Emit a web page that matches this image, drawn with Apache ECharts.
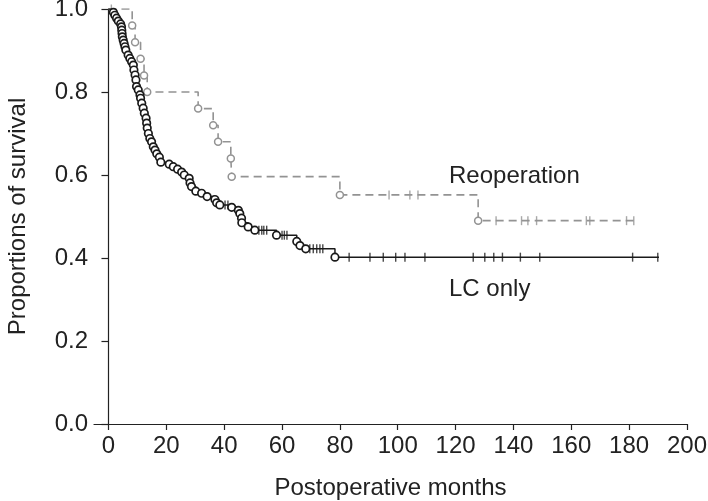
<!DOCTYPE html>
<html>
<head>
<meta charset="utf-8">
<script src="https://cdn.jsdelivr.net/npm/echarts@6/dist/echarts.min.js"></script>
<style>
html,body{margin:0;padding:0;background:#fff;}
#chart{width:708px;height:501px;}
</style>
</head>
<body>
<div id="chart"></div>
<script>
// ---- Data ----
const xTicks = [0, 20, 40, 60, 80, 100, 120, 140, 160, 180, 200];
const yTicks = [0.0, 0.2, 0.4, 0.6, 0.8, 1.0];

// LC only: event times (months) and survival after each event
const lcEventMonths = [1.7,2.2,2.8,3.4,4.2,4.5,4.6,4.7,4.8,5.1,5.4,5.7,6.0,6.8,7.4,8.0,8.6,8.8,9.2,9.5,9.7,10.3,10.9,11.1,11.5,12.0,12.4,13.0,13.2,13.4,13.8,14.3,14.9,15.5,16.1,16.7,17.6,18.1,21.0,22.4,23.9,25.3,26.2,27.9,28.2,28.7,30.2,32.2,34.1,36.8,37.4,38.5,42.6,44.9,45.4,46.0,46.1,48.3,50.6,58.1,65.1,66.2,68.2,78.3];
const lcEventSurv   = [0.992,0.985,0.978,0.971,0.964,0.957,0.949,0.941,0.933,0.925,0.917,0.909,0.901,0.889,0.881,0.873,0.865,0.853,0.841,0.829,0.813,0.805,0.793,0.785,0.773,0.761,0.749,0.737,0.725,0.713,0.700,0.688,0.680,0.668,0.660,0.651,0.643,0.631,0.626,0.620,0.614,0.607,0.600,0.592,0.581,0.572,0.561,0.556,0.548,0.541,0.533,0.528,0.522,0.515,0.507,0.496,0.485,0.475,0.467,0.455,0.440,0.430,0.422,0.402];
const lcCensorMonths = [40.3,41.3,52.0,53.0,53.7,54.7,60.0,60.8,61.7,69.6,70.8,72.0,73.1,74.1,83.2,90.4,95.0,99.3,102.5,109.4,126.1,130.1,133.2,136.2,142.4,149.1,181.2,189.9];
const lcLastMonth = 190.3;

// Reoperation
const reEventMonths = [8.2,9.2,11.1,12.3,13.4,31.0,36.2,37.9,42.3,42.6,80.0,127.8];
const reEventSurv   = [0.96,0.92,0.88,0.84,0.80,0.76,0.72,0.68,0.64,0.596,0.552,0.49];
const reCensorMonths = [1.0,97.0,104.2,107.0,134.0,142.8,145.0,148.0,165.2,166.4,179.1,181.6];
const reLastMonth = 181.6;

const seriesNames = ['LC only', 'Reoperation'];
const xTitle = 'Postoperative months';
const yTitle = 'Proportions of survival';

// ---- helpers ----
function stepData(months, surv, last) {
  const d = [[0, 1]];
  months.forEach((m, i) => d.push([m, surv[i]]));
  d.push([last, surv[surv.length - 1]]);
  return d;
}
function levelAt(months, surv, t) {
  let s = 1;
  for (let i = 0; i < months.length; i++) { if (months[i] <= t) s = surv[i]; }
  return s;
}
function pts(months, surv) { return months.map((m, i) => [m, surv[i]]); }
function censorPts(cm, months, surv) { return cm.map(t => [t, levelAt(months, surv, t)]); }

const BLACK = '#1a1a1a';
const GREY = '#939393';
const TXT = '#222';
const FONT = 'Liberation Sans';
const FS = 24;

const chart = echarts.init(document.getElementById('chart'), null, {renderer: 'canvas'});
chart.setOption({
  animation: false,
  backgroundColor: '#ffffff',
  grid: {left: 94, right: 21, top: 9, bottom: 77, containLabel: false, outerBoundsMode: 'none'},
  xAxis: {
    type: 'value', min: -5, max: 200,
    name: xTitle, nameLocation: 'middle', nameGap: 52,
    nameTextStyle: {fontFamily: FONT, fontSize: FS, color: TXT},
    axisLine: {onZero: false, lineStyle: {color: TXT, width: 1.2}},
    axisTick: {show: true, length: 6, inside: false, customValues: xTicks, lineStyle: {color: TXT, width: 1.2}},
    axisLabel: {customValues: xTicks, fontFamily: FONT, fontSize: FS, color: TXT, margin: 10},
    splitLine: {show: false}
  },
  yAxis: {
    type: 'value', min: 0, max: 1, interval: 0.2,
    name: yTitle, nameLocation: 'middle', nameGap: 64, nameRotate: 90,
    nameTextStyle: {fontFamily: FONT, fontSize: FS, color: TXT},
    axisLine: {show: true, lineStyle: {color: TXT, width: 1.2}},
    axisTick: {show: true, length: 7, lineStyle: {color: TXT, width: 1.2}},
    axisLabel: {fontFamily: FONT, fontSize: FS, color: TXT, margin: 6, formatter: v => v.toFixed(1)},
    splitLine: {show: false}
  },
  series: [
    {
      name: seriesNames[1] + ' line', type: 'line', step: 'end', symbol: 'none', z: 2,
      data: stepData(reEventMonths, reEventSurv, reLastMonth),
      lineStyle: {color: GREY, width: 1.6, type: [8, 5]}
    },
    {
      name: seriesNames[0] + ' line', type: 'line', step: 'end', symbol: 'none', z: 3,
      data: stepData(lcEventMonths, lcEventSurv, lcLastMonth),
      lineStyle: {color: BLACK, width: 1.5}
    },
    {
      name: seriesNames[1] + ' censored', type: 'scatter', symbol: 'rect', symbolSize: [1.4, 9], z: 4,
      data: censorPts(reCensorMonths, reEventMonths, reEventSurv),
      itemStyle: {color: GREY}
    },
    {
      name: seriesNames[0] + ' censored', type: 'scatter', symbol: 'rect', symbolSize: [1.4, 9], z: 5,
      data: censorPts(lcCensorMonths, lcEventMonths, lcEventSurv),
      itemStyle: {color: BLACK}
    },
    {
      name: seriesNames[1] + ' events', type: 'scatter', symbol: 'circle', symbolSize: 7, z: 6,
      data: pts(reEventMonths, reEventSurv),
      itemStyle: {color: '#ffffff', borderColor: GREY, borderWidth: 1.5, opacity: 1}
    },
    {
      name: seriesNames[0] + ' events', type: 'scatter', symbol: 'circle', symbolSize: 7.5, z: 7,
      data: pts(lcEventMonths, lcEventSurv),
      itemStyle: {color: '#ffffff', borderColor: BLACK, borderWidth: 1.7, opacity: 1}
    }
  ],
  graphic: [
    {type: 'text', left: 449, top: 164, style: {text: seriesNames[1], font: FS + 'px "Liberation Sans"', fill: TXT}},
    {type: 'text', left: 449, top: 277, style: {text: seriesNames[0], font: FS + 'px "Liberation Sans"', fill: TXT}}
  ]
});
</script>
</body>
</html>
